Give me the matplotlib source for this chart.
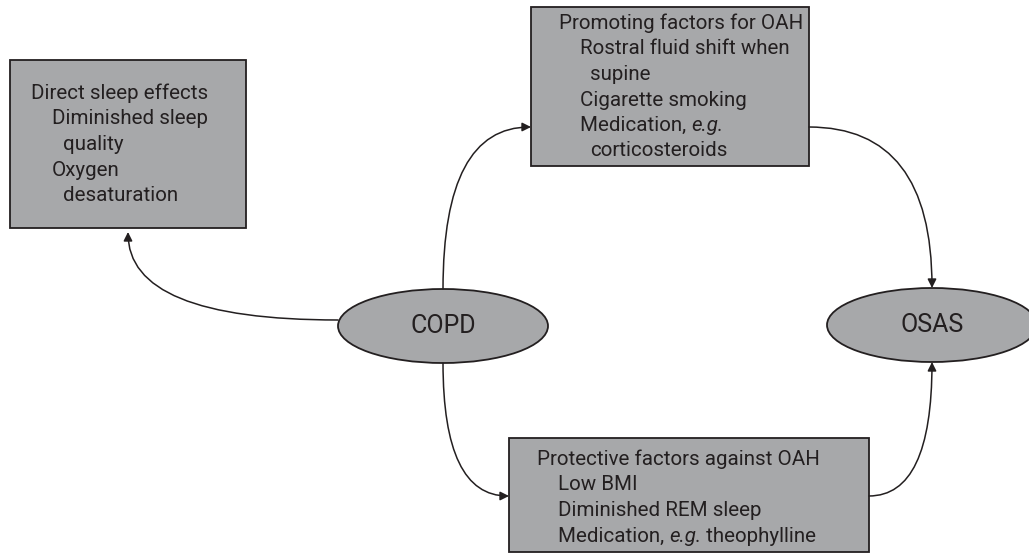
import matplotlib.pyplot as plt
from matplotlib.patches import Rectangle, Ellipse, FancyArrowPatch

plt.rcParams['font.family'] = ['Roboto', 'DejaVu Sans']

# textes du schéma
noeuds = ['COPD', 'OSAS']
effets_directs = ['Direct sleep effects', 'Diminished sleep', 'quality', 'Oxygen', 'desaturation']
# (texte droit, texte en italique, suite)
facteurs_promo = [('Promoting factors for OAH', '', ''), ('Rostral fluid shift when', '', ''),
                  ('supine', '', ''), ('Cigarette smoking', '', ''),
                  ('Medication, ', 'e.g.', ''), ('corticosteroids', '', '')]
facteurs_protec = [('Protective factors against OAH', '', ''), ('Low BMI', '', ''),
                   ('Diminished REM sleep', '', ''), ('Medication, ', 'e.g.', ' theophylline')]

gris = '#a7a8aa'
encre = '#231f20'

fig = plt.figure(figsize=(10.29, 5.53), dpi=100)
ax = fig.add_axes([0, 0, 1, 1])
ax.set_xlim(0, 1029)
ax.set_ylim(553, 0)
ax.axis('off')

# boites (x, y, largeur, hauteur)
boites = [(10, 60, 236, 168), (531, 7, 278, 159), (509, 438, 360, 114)]
for (x, y, w, h) in boites:
    ax.add_patch(Rectangle((x, y), w, h, facecolor=gris, edgecolor=encre, lw=1.3))

# ellipses
centres = [(443, 326), (932, 325)]
for (cx, cy), nom in zip(centres, noeuds):
    ax.add_patch(Ellipse((cx, cy), 210, 74, facecolor=gris, edgecolor=encre, lw=1.3))
    ax.text(cx, cy, nom, ha='center', va='center', fontsize=18, color=encre)

taille = 14.8

# lignes de texte dans les boites
def ecrire(lignes, x0, y0, retraits, pas=25.5):
    for i, (morceaux, r) in enumerate(zip(lignes, retraits)):
        if isinstance(morceaux, str):
            morceaux = (morceaux, '', '')
        t = ax.text(x0 + r, y0 + i * pas, morceaux[0], ha='left', va='baseline',
                    fontsize=taille, color=encre)
        for j, m in enumerate(morceaux[1:]):
            if not m:
                continue
            t = ax.annotate(m, xy=(1, 0), xycoords=t, ha='left', va='bottom',
                            fontsize=taille, color=encre,
                            fontstyle='italic' if j == 0 else 'normal')

ecrire(effets_directs, 31, 99, [0, 21, 32, 21, 32])
ecrire(facteurs_promo, 559, 29, [0, 21, 31, 21, 21, 31])
ecrire(facteurs_protec, 537, 465, [0, 21, 21, 21])

# fleches
fleches = [((338, 320), (128, 232), 0, 90),
           ((443, 289), (531, 127), 90, 0),
           ((809, 127), (932, 288), 0, 90),
           ((443, 363), (509, 496), 90, 0),
           ((869, 496), (932, 362), 0, 90)]
for a, b, angA, angB in fleches:
    ax.add_patch(FancyArrowPatch(a, b, connectionstyle=f'angle3,angleA={angA},angleB={angB}',
                                 arrowstyle='-|>', mutation_scale=13, lw=1.1,
                                 color=encre, shrinkA=0, shrinkB=0))

fig.savefig('out.png', dpi=100)
